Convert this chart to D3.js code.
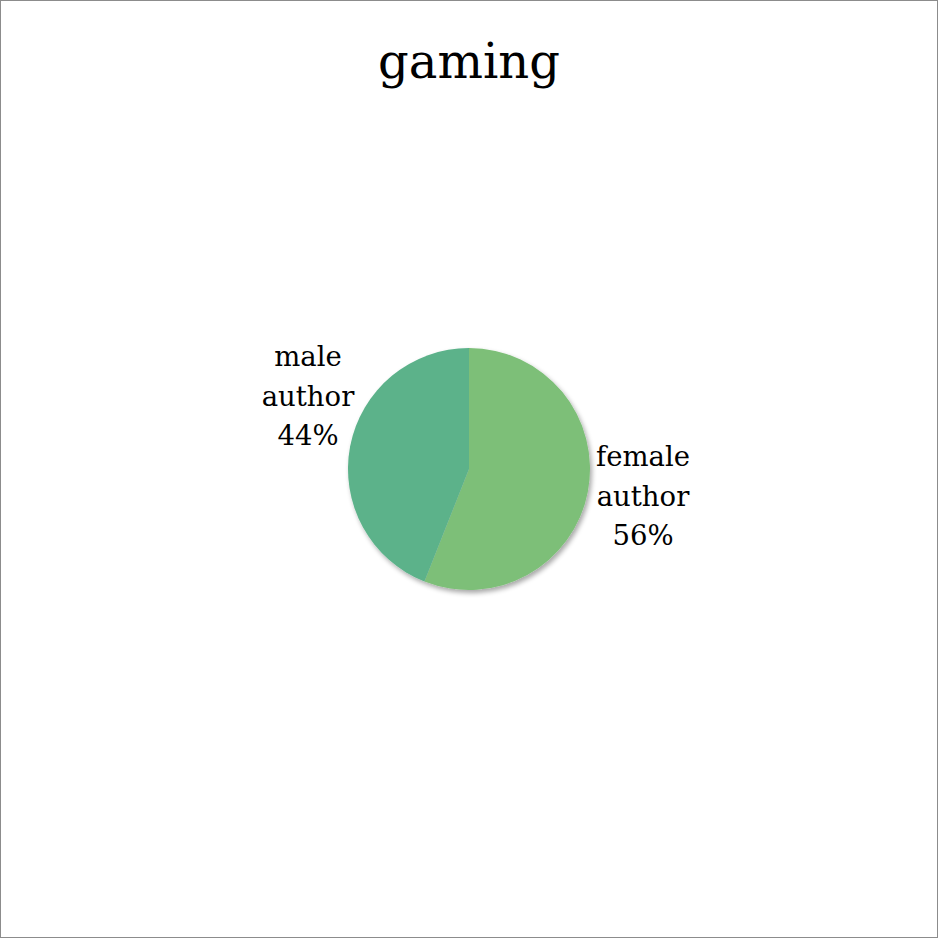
<!DOCTYPE html>
<html><head><meta charset="utf-8">
<script src="https://cdn.jsdelivr.net/npm/d3@7"></script>
<style>html,body{margin:0;padding:0;background:#fff;}</style>
</head><body>
<svg id="chart" width="938" height="938"></svg>
<script>
const title = "gaming";
const categories = ["female author", "male author"];
const values = [56, 44];
const colors = ["#7DBF78", "#5BB28A"];
const labelLines = [["female", "author", "56%"], ["male", "author", "44%"]];

const svg = d3.select("#chart");
const W = 938, H = 938;
const font = "'DejaVu Serif', 'Liberation Serif', serif";

svg.append("rect").attr("x", 0.5).attr("y", 0.5).attr("width", W - 1).attr("height", H - 1)
  .attr("fill", "#fff").attr("stroke", "#8c8c8c").attr("stroke-width", 1);

svg.append("text").attr("x", 469).attr("y", 78).attr("text-anchor", "middle")
  .attr("font-family", font).attr("font-size", 48).attr("fill", "#000").text(title);

const defs = svg.append("defs");
const f = defs.append("filter").attr("id", "shadow").attr("x", "-20%").attr("y", "-20%").attr("width", "140%").attr("height", "140%");
f.append("feGaussianBlur").attr("in", "SourceAlpha").attr("stdDeviation", 2.5);
f.append("feOffset").attr("dx", 2).attr("dy", 3).attr("result", "ob");
f.append("feComponentTransfer").append("feFuncA").attr("type", "linear").attr("slope", 0.35);
const m = f.append("feMerge");
m.append("feMergeNode");
m.append("feMergeNode").attr("in", "SourceGraphic");

const cx = 469, cy = 469, r = 121;
const pie = d3.pie().sort(null).value(d => d)(values);
const arc = d3.arc().innerRadius(0).outerRadius(r);
const g = svg.append("g").attr("transform", `translate(${cx},${cy})`);
const pg = g.append("g").attr("filter", "url(#shadow)");
pg.selectAll("path").data(pie).join("path").attr("d", arc).attr("fill", (d, i) => colors[i]);

const lg = svg.append("g").attr("font-family", font).attr("font-size", 27.5).attr("fill", "#000");
const labelPos = [[643, 466], [308, 366]];
labelLines.forEach((lines, i) => {
  const t = lg.append("text").attr("text-anchor", "middle");
  lines.forEach((ln, j) => {
    t.append("tspan").attr("x", labelPos[i][0]).attr("y", labelPos[i][1] + j * 39.5).text(ln);
  });
});
</script>
</body></html>
